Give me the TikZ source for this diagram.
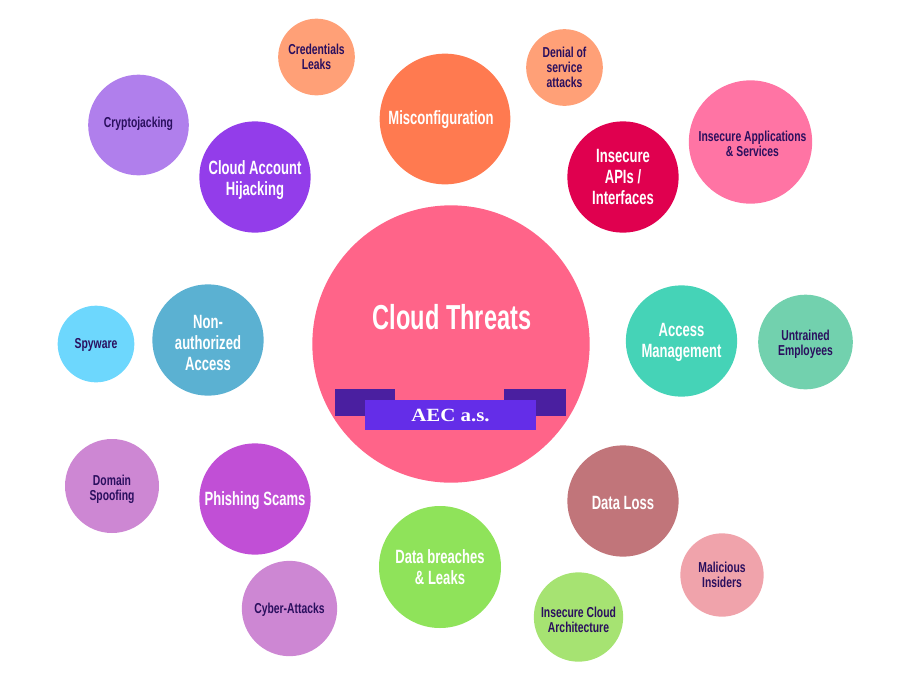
\documentclass[tikz,border=0pt]{standalone}
\usepackage{fontspec}
\setmainfont{Liberation Sans}
\newfontfamily\condfont[FakeStretch=0.68]{Liberation Sans}
\newfontfamily\narrowfont[FakeStretch=0.72]{Liberation Sans}
\newfontfamily\bannerfont[FakeStretch=1.12]{Liberation Serif}
\usetikzlibrary{positioning}
\definecolor{inkdark}{HTML}{2A0F5E}
\definecolor{ribbonback}{HTML}{4A1FA0}
\definecolor{ribbonfront}{HTML}{642DE8}
\definecolor{rosemain}{HTML}{FF6489}
\definecolor{coral}{HTML}{FF7A50}
\definecolor{peach}{HTML}{FFA077}
\definecolor{crimson}{HTML}{E0004F}
\definecolor{pinkapps}{HTML}{FF74A4}
\definecolor{lilac}{HTML}{B07FEC}
\definecolor{violet}{HTML}{933DEA}
\definecolor{teal}{HTML}{45D3B7}
\definecolor{mint}{HTML}{72D1AE}
\definecolor{steel}{HTML}{5BB1D2}
\definecolor{sky}{HTML}{6DD7FD}
\definecolor{orchid}{HTML}{CD87D3}
\definecolor{magenta}{HTML}{C14FD6}
\definecolor{lime}{HTML}{8FE35A}
\definecolor{palelime}{HTML}{A6E372}
\definecolor{dustrose}{HTML}{C1757A}
\definecolor{palerose}{HTML}{F0A3AB}
\tikzset{
    bubble/.style={circle,fill=#1,inner sep=0pt,align=center,text=white,font=\condfont\bfseries\fontsize{14.4}{15.6}\selectfont},
    small/.style={bubble=#1,text=inkdark,font=\narrowfont\bfseries\fontsize{10.8}{11.3}\selectfont},
    ribbon/.style={rectangle,fill=#1,inner sep=0pt},
    drop/.style={execute at begin node={\rule{0pt}{#1}}}
}
\begin{document}
\begin{tikzpicture}[x=0.75pt,y=-0.75pt]
            \useasboundingbox (0,0) rectangle (897,683);

            \node (threats) [bubble=rosemain,minimum size=208pt] at (451,344) {};
            \node (title) at (452,317) [text=white,font=\condfont\bfseries\fontsize{26}{30}\selectfont] {Cloud Threats};

            \node (backl) [ribbon=ribbonback,minimum width=45pt,minimum height=20.25pt] at (365,402.5) {};
            \node (backr) [ribbon=ribbonback,minimum width=46.5pt,minimum height=20.25pt] at (535,402.5) {};
            \node (banner) [ribbon=ribbonfront,minimum width=128.25pt,minimum height=22.5pt,text=white,font=\bannerfont\bfseries\fontsize{14}{16}\selectfont] at (450.5,415) {AEC a.s.};

            \node (misconf) [bubble=coral,minimum size=98pt,drop=12pt] at (445,119) {Misconfiguration\hspace*{6pt}};
            \node (creds) [small=peach,minimum size=57.5pt] at (316.5,57) {Credentials\\Leaks};
            \node (denial) [small=peach,minimum size=57.5pt] at (564.5,67.5) {Denial of\\service\\attacks};
            \node (apis) [bubble=crimson,minimum size=83.5pt] at (623,177) {Insecure\\APIs /\\Interfaces};
            \node (apps) [small=pinkapps,minimum size=92.5pt] at (750.5,142) {\rule{0pt}{11pt}\hspace*{3pt}Insecure Applications\\\hspace*{3pt}\& Services};
            \node (crypto) [small=lilac,minimum size=75.5pt] at (138.5,125) {\rule[-4pt]{0pt}{4pt}Cryptojacking};
            \node (account) [bubble=violet,minimum size=83.5pt] at (255,177) {\rule{0pt}{15pt}Cloud Account\\Hijacking};
            \node (access) [bubble=teal,minimum size=83.5pt] at (681.5,341) {\rule{0pt}{12pt}Access\\Management};
            \node (staff) [small=mint,minimum size=71pt] at (805.5,342) {\rule{0pt}{11pt}Untrained\\Employees};
            \node (nonauth) [bubble=steel,minimum size=83.5pt] at (208,340) {\rule{0pt}{14pt}Non-\\authorized\\Access};
            \node (spy) [small=sky,minimum size=57.5pt,drop=9.5pt] at (96,344) {Spyware};
            \node (domain) [small=orchid,minimum size=70.5pt] at (112,486) {\rule{0pt}{12.5pt}Domain\\Spoofing};
            \node (phish) [bubble=magenta,minimum size=83.5pt,drop=13pt] at (255,499) {Phishing Scams};
            \node (cyber) [small=orchid,minimum size=71.5pt,drop=9.5pt] at (289.5,608.5) {Cyber-Attacks};
            \node (breach) [bubble=lime,minimum size=91.5pt] at (440,567) {Data breaches\\\& Leaks};
            \node (arch) [small=palelime,minimum size=67pt] at (578.5,617) {\rule{0pt}{12.5pt}Insecure Cloud\\Architecture};
            \node (loss) [bubble=dustrose,minimum size=83.5pt,drop=13pt] at (623,501) {Data Loss};
            \node (insider) [small=palerose,minimum size=62.5pt] at (722,575) {Malicious\\Insiders};
        \end{tikzpicture}
\end{document}
